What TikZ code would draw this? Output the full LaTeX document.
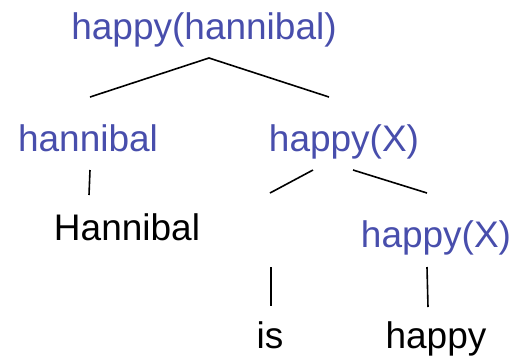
\documentclass[tikz,border=0pt]{standalone}
\usepackage{fontspec}
\setmainfont{Liberation Sans}
\definecolor{semblue}{RGB}{72,78,172}
\begin{document}
\begin{tikzpicture}[x=1pt,y=-1pt,
  lbl/.style={anchor=base,inner sep=0pt,font=\fontsize{37}{44}\selectfont},
  sem/.style={lbl,text=semblue},
  word/.style={lbl,text=black},
  edge/.style={draw=black,line width=1.6pt}]
\useasboundingbox (0,0) rectangle (512,360);
% nodes
\node[sem]  (top)  at (204,39)  {happy(hannibal)};
\node[sem]  (han)  at (88,151)  {hannibal};
\node[sem]  (hx)   at (344,151) {happy(X)};
\node[word] (Han)  at (127,240) {Hannibal};
\node[sem]  (hx2)  at (436,247) {happy(X)};
\node[word] (is)   at (270,348) {is};
\node[word] (hap)  at (436,348) {happy};
% connector end points
\coordinate (top-s) at (209,58);
\coordinate (han-n) at (90,97);
\coordinate (hx-n)  at (329,97);
\coordinate (han-s) at (90,170);
\coordinate (Han-n) at (89,195);
\coordinate (hx-sl) at (313,170);
\coordinate (hx-sr) at (353,170);
\coordinate (is-top) at (270,193);
\coordinate (hx2-n) at (427,193);
\coordinate (is-a)  at (271,267);
\coordinate (is-b)  at (271,306);
\coordinate (hx2-s) at (427,267);
\coordinate (hap-n) at (428,307);
% connectors
\draw[edge] (han-n) -- (top-s) -- (hx-n);
\draw[edge] (han-s) -- (Han-n);
\draw[edge] (is-top) -- (hx-sl);
\draw[edge] (hx-sr) -- (hx2-n);
\draw[edge] (is-a) -- (is-b);
\draw[edge] (hx2-s) -- (hap-n);
\end{tikzpicture}
\end{document}
